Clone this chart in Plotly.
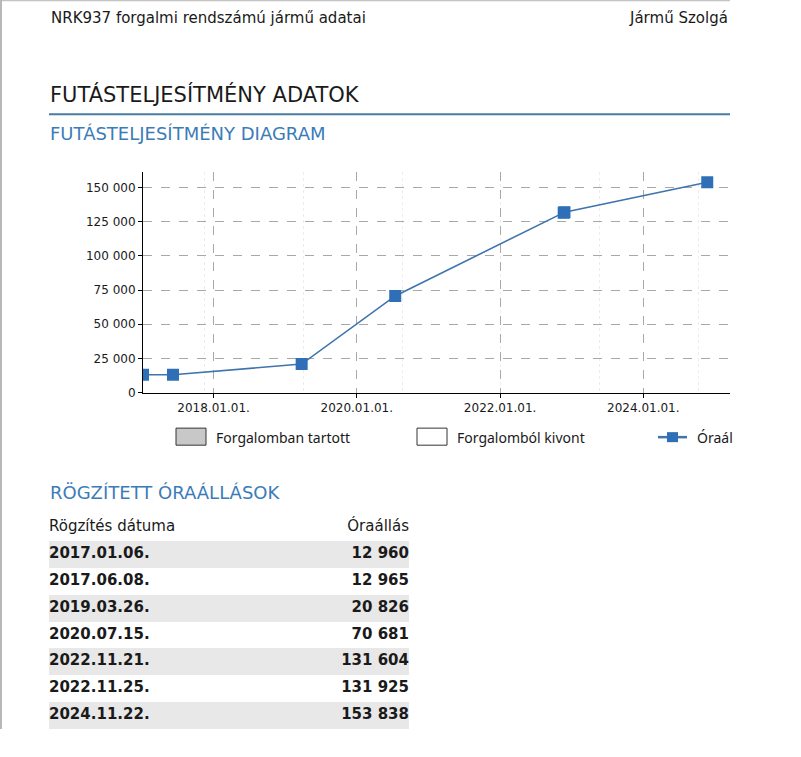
import plotly.graph_objects as go

# recorded odometer readings (Rögzített óraállások)
dates = ["2017-01-06", "2017-06-08", "2019-03-26", "2020-07-15",
         "2022-11-21", "2022-11-25", "2024-11-22"]
readings = [12960, 12965, 20826, 70681, 131604, 131925, 153838]

date_labels = [d.replace("-", ".") + "." for d in dates]
reading_labels = [f"{v:,}".replace(",", " ") for v in readings]

table_header = ["Rögzítés dátuma", "Óraállás"]
legend_names = ["Forgalomban tartott", "Forgalomból kivont", "Óraál"]

W, H = 801, 757
YS = 1.012  # the photo comes out ~1% short vertically, stretch positions a bit
BLUE = "#3b7cb8"
TXT = "#1a1a1a"
FONT = "DejaVu Sans"


def px(x):
    return x / W


def py(y):
    return 1 - y * YS / H


fig = go.Figure()

fig.add_trace(go.Scatter(
    x=dates, y=readings, mode="lines+markers",
    line=dict(color="#3f74ad", width=1.6),
    marker=dict(symbol="square", size=12, color="#2e6fb7"),
    showlegend=False, hoverinfo="skip"))

# table drawn on its own axes: row 0 = header, rows 1..n = readings
n = len(dates)
rows = list(range(1, n + 1))
shaded = [r for r in rows if r % 2 == 1]
fig.add_trace(go.Bar(
    x=[1] * len(shaded), y=shaded, base=0, width=1, orientation="h",
    marker=dict(color="#e8e8e8", line=dict(width=0)),
    xaxis="x2", yaxis="y2", showlegend=False, hoverinfo="skip"))
fig.add_trace(go.Scatter(
    x=[0] * (n + 1), y=[0] + rows, mode="text",
    text=[table_header[0]] + ["<b>%s</b>" % s for s in date_labels],
    textposition="middle right", cliponaxis=False,
    textfont=dict(family=FONT, size=15, color=TXT),
    xaxis="x2", yaxis="y2", showlegend=False, hoverinfo="skip"))
fig.add_trace(go.Scatter(
    x=[1] * (n + 1), y=[0] + rows, mode="text",
    text=[table_header[1]] + ["<b>%s</b>" % s for s in reading_labels],
    textposition="middle left", cliponaxis=False,
    textfont=dict(family=FONT, size=15, color=TXT),
    xaxis="x2", yaxis="y2", showlegend=False, hoverinfo="skip"))

fig.update_layout(
    xaxis=dict(
        domain=[px(143), px(730)], type="date",
        range=["2017-01-06", "2025-03-18"],
        tick0="2018-01-01", dtick="M24", tickformat="%Y.%m.%d.",
        showline=True, linecolor="black", linewidth=1,
        ticks="outside", ticklen=4, tickcolor="black",
        showgrid=True, gridcolor="#a8a8a8", griddash="dash", gridwidth=1,
        minor=dict(tick0="2017-11-15", dtick=504 * 86400000, showgrid=True,
                   gridcolor="#ececec", griddash="dot", ticks=""),
        zeroline=False, tickfont=dict(family=FONT, size=12, color=TXT)),
    yaxis=dict(
        domain=[py(391.5), py(172)], range=[0, 161000],
        tick0=0, dtick=25000, tickformat=",d",
        showline=True, linecolor="black", linewidth=1,
        ticks="outside", ticklen=4, tickcolor="black",
        showgrid=True, gridcolor="#a8a8a8", griddash="dash", gridwidth=1,
        zeroline=False, tickfont=dict(family=FONT, size=12, color=TXT)),
    xaxis2=dict(domain=[px(49), px(409)], range=[0, 1], visible=False,
                anchor="y2"),
    yaxis2=dict(domain=[py(727), py(512.5)], range=[n + 0.5, -0.5],
                visible=False, anchor="x2"),
)

shapes = [
    # page border bits
    dict(type="line", x0=0, x1=px(730), y0=py(0.5), y1=py(0.5),
         line=dict(color="#c4c4c4", width=1.5)),
    dict(type="line", x0=px(1), x1=px(1), y0=py(0), y1=py(727),
         line=dict(color="#b8b8b8", width=2)),
    # rule under section title
    dict(type="line", x0=px(49), x1=px(730), y0=py(114), y1=py(114),
         line=dict(color="#4a7ca3", width=2)),
    # legend swatches
    dict(type="rect", x0=px(176), x1=px(206), y0=py(444), y1=py(427),
         fillcolor="#c8c8c8", line=dict(color="#333333", width=1)),
    dict(type="rect", x0=px(417), x1=px(447), y0=py(444), y1=py(427),
         fillcolor="white", line=dict(color="#333333", width=1)),
    dict(type="line", x0=px(658), x1=px(687), y0=py(436), y1=py(436),
         line=dict(color="#3f74ad", width=2.5)),
    dict(type="rect", x0=px(667), x1=px(678), y0=py(441), y1=py(431),
         fillcolor="#2e6fb7", line=dict(width=0)),
]
for s in shapes:
    s.update(xref="paper", yref="paper")


def note(text, x, y, size, color=TXT, anchor="left", family=FONT):
    return dict(text=text, x=px(x), y=py(y), xref="paper", yref="paper",
                xanchor=anchor, yanchor="middle", showarrow=False,
                font=dict(family=family, size=size, color=color))


annotations = [
    note("NRK937 forgalmi rendszámú jármű adatai", 49, 18, 15),
    note("Jármű Szolgá", 730, 18, 15, anchor="right"),
    note("FUTÁSTELJESÍTMÉNY ADATOK", 48, 94, 21),
    note("FUTÁSTELJESÍTMÉNY DIAGRAM", 48, 133, 18, color=BLUE),
    note("RÖGZÍTETT ÓRAÁLLÁSOK", 48, 491, 18, color=BLUE),
    note(legend_names[0], 214, 436, 14, family="Noto Sans"),
    note(legend_names[1], 455, 436, 14, family="Noto Sans"),
    note(legend_names[2], 695, 436, 14, family="Noto Sans"),
]

fig.update_layout(
    width=W, height=H, margin=dict(l=0, r=0, t=0, b=0),
    paper_bgcolor="white", plot_bgcolor="white",
    separators=". ", showlegend=False, bargap=0,
    shapes=shapes, annotations=annotations)

fig.write_html("out.html", config={"displayModeBar": False},
               post_script="document.body.style.margin='0';")
